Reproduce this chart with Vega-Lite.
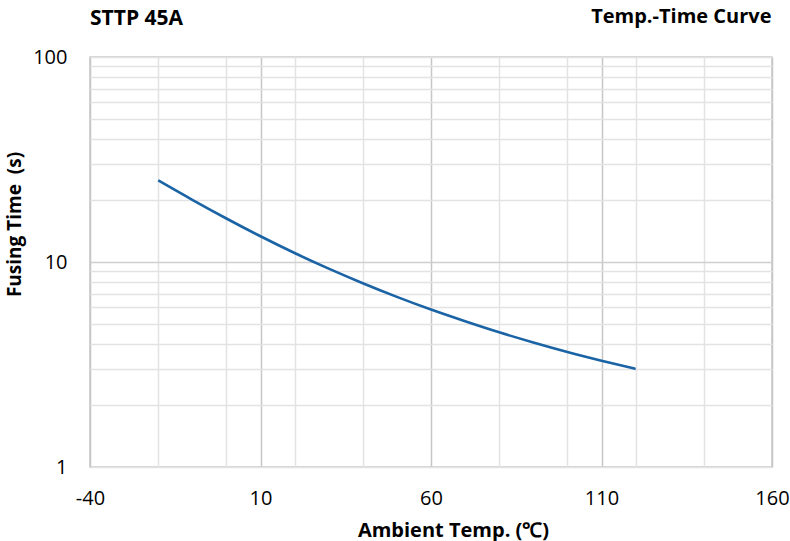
{
  "$schema": "https://vega.github.io/schema/vega-lite/v6.json",
  "width": 682,
  "height": 410,
  "autosize": "none",
  "padding": {"left": 90, "top": 57, "right": 18, "bottom": 74},
  "background": "white",
  "config": {
    "font": "Open Sans",
    "view": {"stroke": "#c8c8c8", "strokeWidth": 1.5}
  },
  "title": {
    "text": "STTP 45A",
    "anchor": "start",
    "frame": "group",
    "orient": "top",
    "baseline": "alphabetic",
    "offset": -40,
    "fontSize": 21,
    "fontWeight": "bold",
    "font": "Open Sans",
    "color": "#000000"
  },
  "data": {
    "values": [
      {"temp": -20, "time": 25.0},
      {"temp": -10, "time": 20.1},
      {"temp": 0, "time": 16.3},
      {"temp": 10, "time": 13.35},
      {"temp": 20, "time": 11.06},
      {"temp": 30, "time": 9.28},
      {"temp": 40, "time": 7.88},
      {"temp": 50, "time": 6.76},
      {"temp": 60, "time": 5.86},
      {"temp": 70, "time": 5.14},
      {"temp": 80, "time": 4.54},
      {"temp": 90, "time": 4.05},
      {"temp": 100, "time": 3.64},
      {"temp": 110, "time": 3.3},
      {"temp": 120, "time": 3.01}
    ]
  },
  "layer": [
    {
      "mark": {"type": "line", "color": "#1a63a5", "strokeWidth": 2.6, "interpolate": "monotone"},
      "encoding": {
        "x": {
          "field": "temp",
          "type": "quantitative",
          "scale": {"domain": [-40, 160], "nice": false, "zero": false},
          "axis": {
            "orient": "bottom",
            "values": [-40, -20, 0, 10, 20, 40, 60, 80, 100, 110, 120, 140, 160],
            "labelExpr": "(datum.value + 40) % 50 === 0 ? replace(datum.label, '−', '-') : ''",
            "labelFlush": false,
            "labelOverlap": false,
            "domain": false,
            "ticks": false,
            "grid": true,
            "gridWidth": 1.5,
            "gridColor": {"condition": {"test": "(datum.value + 40) % 50 === 0", "value": "#c6c6c6"}, "value": "#e3e3e3"},
            "labelFontSize": 20,
            "labelColor": "#000000",
            "labelPadding": 21,
            "labelFont": "Open Sans",
            "title": "Ambient Temp. (℃)",
            "titleFontSize": 20,
            "titleFontWeight": "bold",
            "titleColor": "#000000",
            "titleX": 363,
            "titleY": 69,
            "titleBaseline": "alphabetic",
            "titleAlign": "center"
          }
        },
        "y": {
          "field": "time",
          "type": "quantitative",
          "scale": {"type": "log", "domain": [1, 100], "nice": false},
          "axis": {
            "values": [1, 2, 3, 4, 5, 6, 7, 8, 9, 10, 20, 30, 40, 50, 60, 70, 80, 90, 100],
            "labelExpr": "(datum.value === 1 || datum.value === 10 || datum.value === 100) ? datum.value : ''",
            "labelFlush": false,
            "labelOverlap": false,
            "domain": false,
            "ticks": false,
            "grid": true,
            "gridWidth": 1.5,
            "gridColor": {"condition": {"test": "datum.value === 10", "value": "#cfcfcf"}, "value": "#e3e3e3"},
            "labelFontSize": 20,
            "labelColor": "#000000",
            "labelPadding": 23,
            "labelFont": "Open Sans",
            "title": "Fusing Time\u00a0 (s)",
            "titleFontSize": 19,
            "titleFontWeight": "bold",
            "titleColor": "#000000",
            "titleAngle": -90,
            "titleX": -70,
            "titleY": 167,
            "titleBaseline": "alphabetic",
            "titleAlign": "center"
          }
        }
      }
    },
    {
      "mark": {"type": "rule", "opacity": 0},
      "encoding": {
        "x": {
          "field": "temp",
          "type": "quantitative",
          "scale": {"domain": [-40, 160], "nice": false, "zero": false},
          "axis": {
            "orient": "top",
            "labels": false,
            "ticks": false,
            "domain": false,
            "grid": false,
            "title": "Temp.-Time Curve",
            "titleFontSize": 20,
            "titleFontWeight": "bold",
            "titleColor": "#000000",
            "titleX": 681,
            "titleY": -35,
            "titleAlign": "right",
            "titleBaseline": "alphabetic"
          }
        }
      }
    }
  ],
  "resolve": {"axis": {"x": "independent"}}
}
